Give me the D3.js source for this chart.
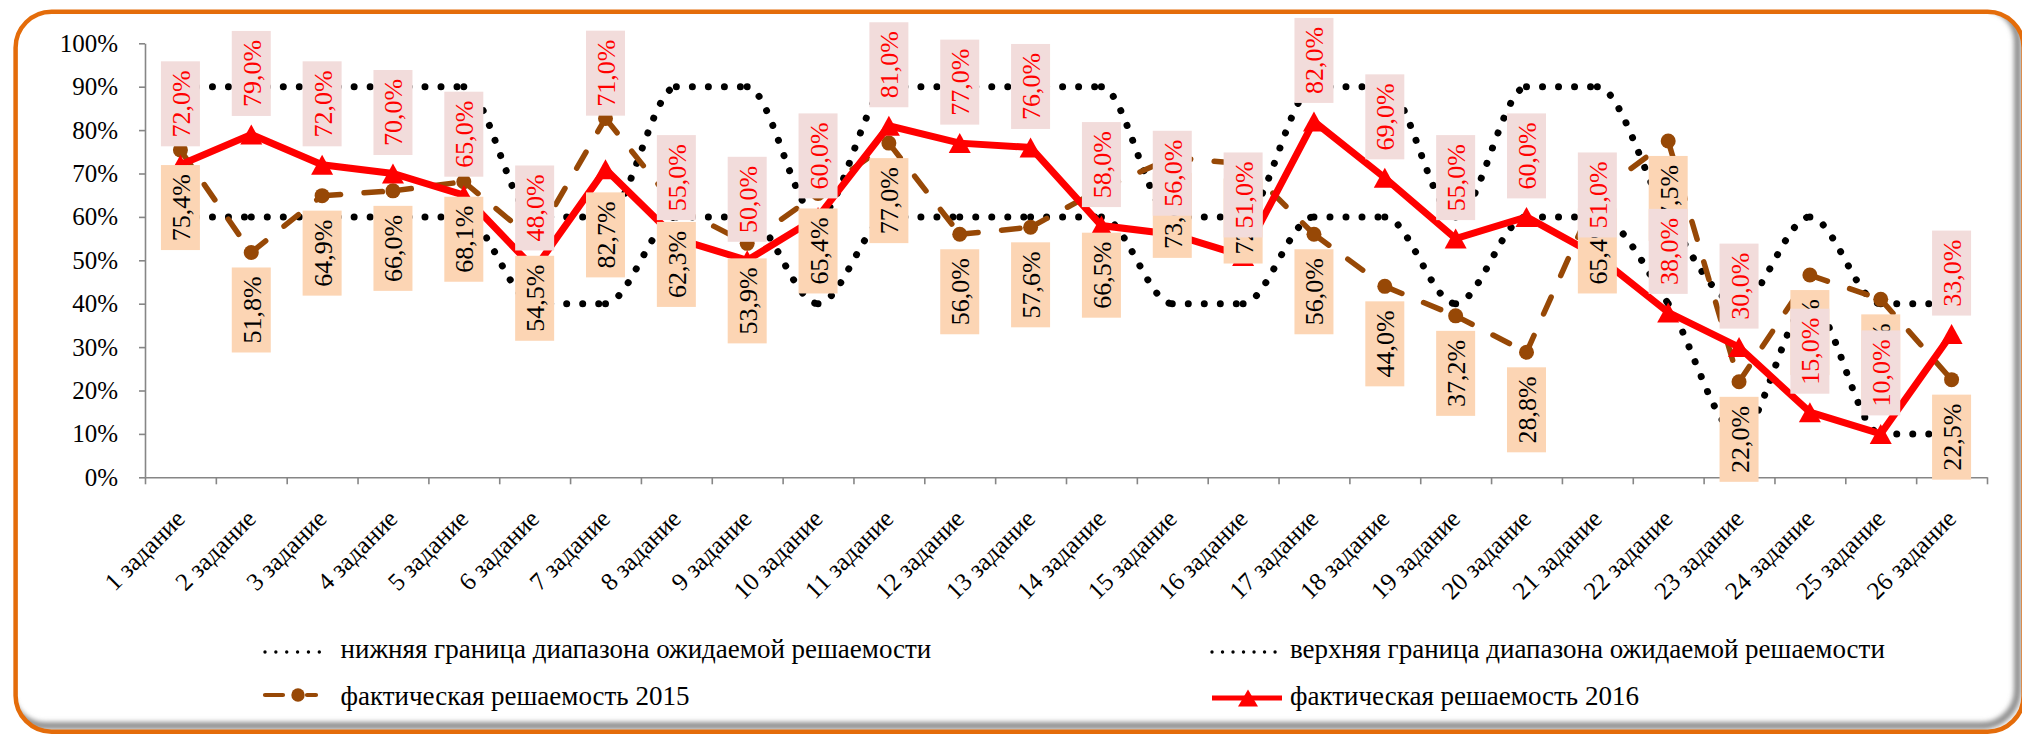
<!DOCTYPE html>
<html>
<head>
<meta charset="utf-8">
<script src="https://cdn.jsdelivr.net/npm/d3@7"></script>
<style>
  html, body { margin: 0; padding: 0; background: #ffffff; }
  svg { display: block; }
</style>
</head>
<body>
<svg id="chart" width="2022" height="736"></svg>
<script>
// ---------------- DATA ----------------
const categories = [
  "1 задание", "2 задание", "3 задание", "4 задание", "5 задание", "6 задание",
  "7 задание", "8 задание", "9 задание", "10 задание", "11 задание", "12 задание",
  "13 задание", "14 задание", "15 задание", "16 задание", "17 задание", "18 задание",
  "19 задание", "20 задание", "21 задание", "22 задание", "23 задание", "24 задание",
  "25 задание", "26 задание"
];
const lowerBound = [60, 60, 60, 60, 60, 40, 40, 60, 60, 40, 60, 60, 60, 60, 40, 40, 60, 60, 40, 60, 60, 40, 10, 40, 10, 10];
const upperBound = [90, 90, 90, 90, 90, 60, 60, 90, 90, 60, 90, 90, 90, 90, 60, 60, 90, 90, 60, 90, 90, 60, 40, 60, 40, 40];
const actual2015 = [75.4, 51.8, 64.9, 66.0, 68.1, 54.5, 82.7, 62.3, 53.9, 65.4, 77.0, 56.0, 57.6, 66.5, 73.6, 72.3, 56.0, 44.0, 37.2, 28.8, 65.4, 77.5, 22.0, 46.6, 41.0, 22.5];
const actual2016 = [72.0, 79.0, 72.0, 70.0, 65.0, 48.0, 71.0, 55.0, 50.0, 60.0, 81.0, 77.0, 76.0, 58.0, 56.0, 51.0, 82.0, 69.0, 55.0, 60.0, 51.0, 38.0, 30.0, 15.0, 10.0, 33.0];
const yTicks = [0, 10, 20, 30, 40, 50, 60, 70, 80, 90, 100];
const legendNames = [
  "нижняя граница диапазона ожидаемой решаемости",
  "верхняя граница диапазона ожидаемой решаемости",
  "фактическая решаемость 2015",
  "фактическая решаемость 2016"
];

// ---------------- LAYOUT / STYLE ----------------
const FONT = "'Liberation Serif', 'Times New Roman', serif";
const plot = { left: 145, right: 1987, top: 43.3, bottom: 477.3 };
const COLORS = {
  frame: "#E46C0A", axis: "#868686", dots: "#000000",
  c2015: "#974806", c2016: "#FF0000",
  box2015: "#FCD5B4", box2016: "#F2DCDB"
};
// manual label shifts (pixels) for labels that were dragged in the original
const labelShift2016 = { "7 задание": -35 };
const labelShift2015 = { "7 задание": 59, "14 задание": 29 };

const svg = d3.select("#chart");

// ---------------- FRAME ----------------
const defs = svg.append("defs");
defs.append("clipPath").attr("id", "frameClip")
  .append("rect").attr("x", 15.6).attr("y", 11.7).attr("width", 2008).attr("height", 720).attr("rx", 36);
defs.append("filter").attr("id", "blur").attr("x", "-5%").attr("y", "-5%").attr("width", "110%").attr("height", "110%")
  .append("feGaussianBlur").attr("stdDeviation", 2.5);

svg.append("rect").attr("x", 15.6).attr("y", 11.7).attr("width", 2008).attr("height", 720).attr("rx", 36)
  .attr("fill", "#ffffff");
svg.append("g").attr("clip-path", "url(#frameClip)")
  .append("rect").attr("x", 9.6).attr("y", 5.7).attr("width", 2008).attr("height", 720).attr("rx", 36)
  .attr("fill", "none").attr("stroke", "#8a8a8a").attr("stroke-width", 7).attr("filter", "url(#blur)");
svg.append("rect").attr("x", 15.6).attr("y", 11.7).attr("width", 2008).attr("height", 720).attr("rx", 36)
  .attr("fill", "none").attr("stroke", COLORS.frame).attr("stroke-width", 4.5);

// ---------------- SCALES ----------------
const x = d3.scaleBand().domain(categories).range([plot.left, plot.right]).padding(0);
const cx = c => x(c) + x.bandwidth() / 2;
const y = d3.scaleLinear().domain([0, 100]).range([plot.bottom, plot.top]);
const xEdge = d3.scaleLinear().domain([0, categories.length]).range([plot.left, plot.right]);

// ---------------- AXES ----------------
const yAxis = svg.append("g").attr("transform", `translate(${plot.left},0)`)
  .call(d3.axisLeft(y).tickValues(yTicks).tickFormat(d => d + "%").tickSize(6).tickSizeOuter(0).tickPadding(21));
yAxis.selectAll("path, line").attr("stroke", COLORS.axis).attr("stroke-width", 1.6);
yAxis.selectAll("text").attr("font-family", FONT).attr("font-size", 25).attr("fill", "#000");

const xAxis = svg.append("g").attr("transform", `translate(0,${plot.bottom})`)
  .call(d3.axisBottom(xEdge).tickValues(d3.range(0, categories.length + 1)).tickFormat("").tickSize(7).tickSizeOuter(0));
xAxis.selectAll("path, line").attr("stroke", COLORS.axis).attr("stroke-width", 1.6);

svg.append("g").selectAll("text").data(categories).join("text")
  .attr("transform", c => `translate(${cx(c) + 6},${plot.bottom + 43}) rotate(-45)`)
  .attr("text-anchor", "end")
  .attr("font-family", FONT).attr("font-size", 25).attr("fill", "#000")
  .text(c => c);

// ---------------- HELPERS ----------------
// split a generated path into one sub-path per segment (dash pattern restarts at each point, as in Excel)
function segmentPaths(d) {
  const cmds = d.match(/[MLC][^MLC]*/g);
  let prev = null;
  const out = [];
  cmds.forEach(cmd => {
    const nums = cmd.slice(1).split(/[\s,]+/).filter(s => s.length).map(Number);
    if (cmd[0] === "M") { prev = nums; return; }
    out.push(`M${prev[0]},${prev[1]}${cmd[0]}${nums.join(",")}`);
    prev = nums.slice(-2);
  });
  return out;
}
function seriesPoints(values) { return categories.map((c, i) => [cx(c), y(values[i])]); }

function drawDotted(values) {
  const d = d3.line().curve(d3.curveMonotoneX)(seriesPoints(values));
  svg.append("g").selectAll("path").data(segmentPaths(d)).join("path")
    .attr("d", s => s).attr("fill", "none").attr("stroke", COLORS.dots)
    .attr("stroke-width", 7).attr("stroke-linecap", "round").attr("stroke-dasharray", "0.01 16");
}

const triPath = (w, h) => `M0,${-h / 2}L${w / 2},${h / 2}L${-w / 2},${h / 2}Z`;

// ---------------- SERIES ----------------
drawDotted(lowerBound);
drawDotted(upperBound);

// 2015 – long dash with circle markers
const d2015 = d3.line()(seriesPoints(actual2015));
svg.append("g").selectAll("path").data(segmentPaths(d2015)).join("path")
  .attr("d", s => s).attr("fill", "none").attr("stroke", COLORS.c2015)
  .attr("stroke-width", 5.5).attr("stroke-linecap", "round").attr("stroke-dasharray", "18.5 23.5");
svg.append("g").selectAll("circle").data(categories).join("circle")
  .attr("cx", c => cx(c)).attr("cy", (c, i) => y(actual2015[i])).attr("r", 7.5)
  .attr("fill", COLORS.c2015);

// 2016 – solid with triangle markers
svg.append("path").attr("d", d3.line()(seriesPoints(actual2016)))
  .attr("fill", "none").attr("stroke", COLORS.c2016).attr("stroke-width", 7).attr("stroke-linejoin", "miter");
svg.append("g").selectAll("path").data(categories).join("path")
  .attr("transform", (c, i) => `translate(${cx(c)},${y(actual2016[i])})`)
  .attr("d", triPath(22, 20)).attr("fill", COLORS.c2016);

// ---------------- DATA LABELS ----------------
const fmt = v => d3.format(".1f")(v).replace(".", ",") + "%";
const BOX_W = 39, BOX_H = 85;

function drawLabels(values, above, shifts, boxColor, textColor) {
  const g = svg.append("g");
  const top = (c, i) => {
    const py = y(values[i]);
    const base = above ? py - 18.5 - BOX_H : py + 15;
    return base + (shifts[c] || 0);
  };
  const lab = g.selectAll("g").data(categories).join("g");
  lab.append("rect")
    .attr("x", c => cx(c) - BOX_W / 2).attr("y", (c, i) => top(c, i))
    .attr("width", BOX_W).attr("height", BOX_H).attr("fill", boxColor);
  lab.append("text")
    .attr("transform", (c, i) => `translate(${cx(c) + 1},${top(c, i) + BOX_H / 2}) rotate(-90)`)
    .attr("text-anchor", "middle").attr("dominant-baseline", "central")
    .attr("font-family", FONT).attr("font-size", 26).attr("fill", textColor)
    .text((c, i) => fmt(values[i]));
}
drawLabels(actual2015, false, labelShift2015, COLORS.box2015, "#000000");
drawLabels(actual2016, true, labelShift2016, COLORS.box2016, COLORS.c2016);

// ---------------- LEGEND ----------------
const leg = svg.append("g");
const legText = (tx, ty, t) => leg.append("text").attr("x", tx).attr("y", ty)
  .attr("font-family", FONT).attr("font-size", 27).attr("fill", "#000").text(t);

// row 1
leg.append("path").attr("d", d3.line()([[265, 652], [330.1, 652]]))
  .attr("stroke", COLORS.dots).attr("stroke-width", 3.4).attr("stroke-linecap", "round").attr("stroke-dasharray", "0.01 10.85");
legText(340.5, 658, legendNames[0]);
leg.append("path").attr("d", d3.line()([[1212, 652], [1275.1, 652]]))
  .attr("stroke", COLORS.dots).attr("stroke-width", 3.4).attr("stroke-linecap", "round").attr("stroke-dasharray", "0.01 10.5");
legText(1290, 658, legendNames[1]);

// row 2
leg.append("path").attr("d", d3.line()([[265, 695], [316, 695]]))
  .attr("stroke", COLORS.c2015).attr("stroke-width", 4.2).attr("stroke-linecap", "round").attr("stroke-dasharray", "18 24");
leg.append("circle").attr("cx", 298).attr("cy", 695).attr("r", 6.7).attr("fill", COLORS.c2015);
legText(340.5, 705, legendNames[2]);
leg.append("path").attr("d", d3.line()([[1212, 698], [1282, 698]]))
  .attr("stroke", COLORS.c2016).attr("stroke-width", 5);
leg.append("path").attr("transform", "translate(1248,698)").attr("d", triPath(20, 17)).attr("fill", COLORS.c2016);
legText(1290, 705, legendNames[3]);
</script>
</body>
</html>
